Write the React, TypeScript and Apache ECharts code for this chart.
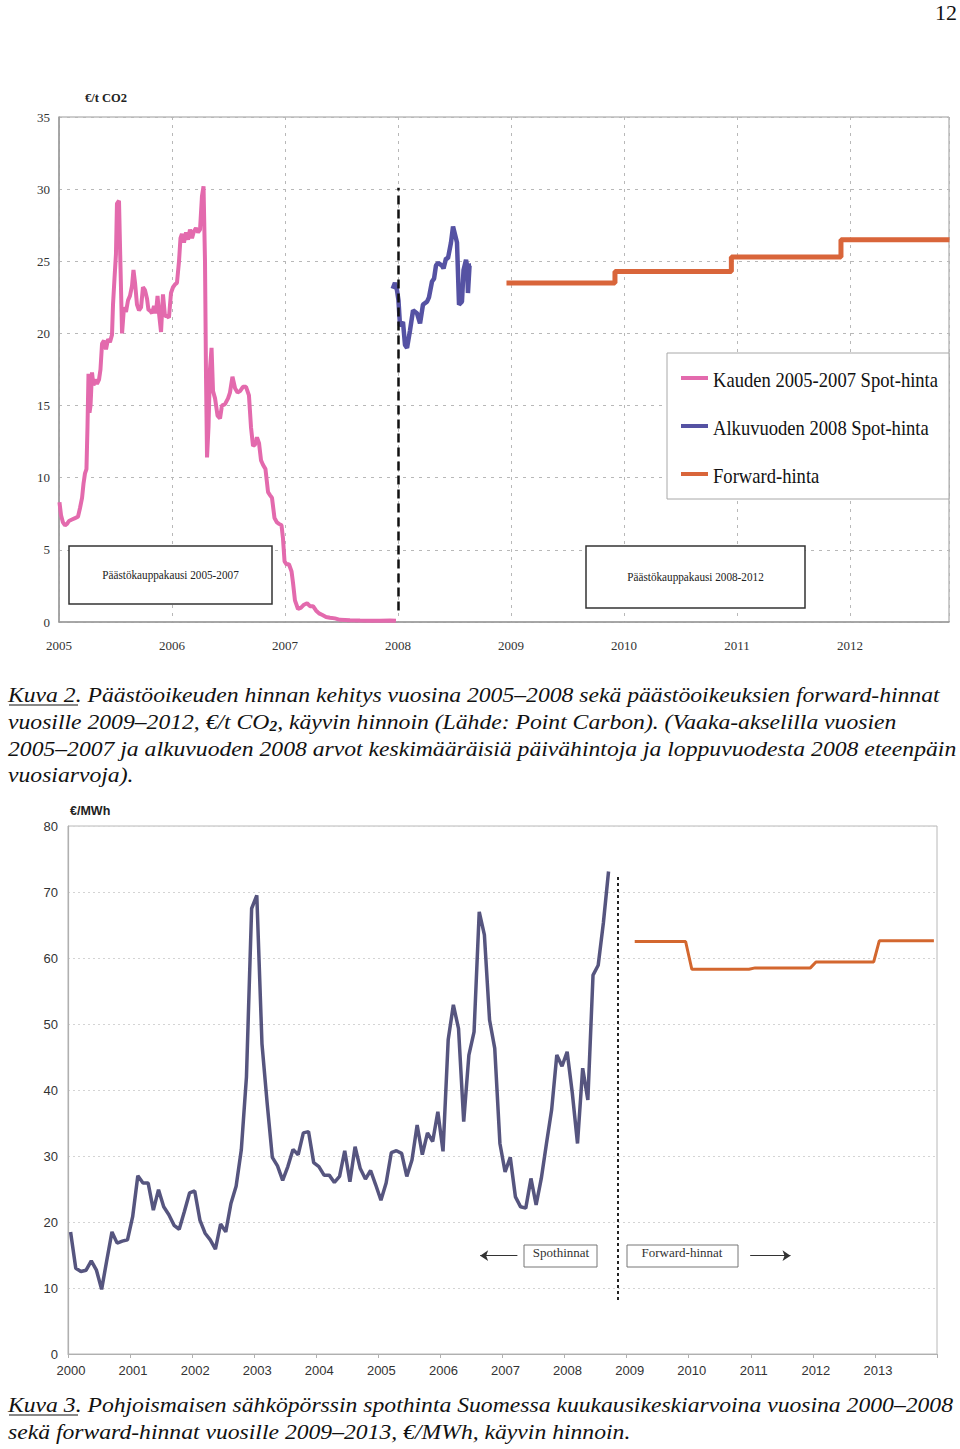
import React, { useEffect, useRef } from "react";
import * as echarts from "echarts";

// ---------- Kuva 2 data (€/t CO2) ----------
const pinkYears = [
  2005.004, 2005.018, 2005.035, 2005.053, 2005.071, 2005.088, 2005.115, 2005.142, 2005.168, 2005.186,
  2005.204, 2005.217, 2005.230, 2005.243, 2005.252, 2005.261, 2005.270, 2005.279, 2005.292, 2005.305,
  2005.319, 2005.336, 2005.354, 2005.367, 2005.381, 2005.398, 2005.416, 2005.434, 2005.451, 2005.469,
  2005.478, 2005.491, 2005.504, 2005.513, 2005.531, 2005.540, 2005.558, 2005.575, 2005.593, 2005.611,
  2005.628, 2005.646, 2005.659, 2005.673, 2005.690, 2005.708, 2005.726, 2005.743, 2005.761, 2005.779,
  2005.792, 2005.805, 2005.823, 2005.841, 2005.858, 2005.872, 2005.885, 2005.903, 2005.920, 2005.938,
  2005.956, 2005.973, 2005.991, 2006.009, 2006.027, 2006.044, 2006.062, 2006.075, 2006.088, 2006.106,
  2006.124, 2006.142, 2006.159, 2006.177, 2006.195, 2006.212, 2006.230, 2006.248, 2006.265, 2006.279,
  2006.292, 2006.301, 2006.310, 2006.323, 2006.336, 2006.350, 2006.363, 2006.381, 2006.403, 2006.425,
  2006.442, 2006.469, 2006.496, 2006.513, 2006.535, 2006.558, 2006.580, 2006.602, 2006.628, 2006.655,
  2006.681, 2006.699, 2006.717, 2006.735, 2006.752, 2006.770, 2006.788, 2006.805, 2006.827, 2006.850,
  2006.867, 2006.885, 2006.907, 2006.929, 2006.947, 2006.969, 2006.982, 2006.996, 2007.013, 2007.035,
  2007.058, 2007.071, 2007.088, 2007.115, 2007.142, 2007.168, 2007.195, 2007.221, 2007.248, 2007.274,
  2007.301, 2007.327, 2007.363, 2007.398, 2007.442, 2007.487, 2007.575, 2007.664, 2007.752, 2007.841,
  2007.929, 2007.982,
];
const pinkValues = [
  8.3, 7.4, 6.9, 6.7, 6.8, 7.0, 7.1, 7.2, 7.3, 7.9,
  8.6, 9.6, 10.3, 10.6, 13.5, 17.2, 14.5, 15.0, 17.3, 16.4,
  16.8, 16.5, 16.8, 17.5, 19.3, 19.5, 18.9, 19.6, 19.4, 19.9,
  22.0, 23.8, 25.5, 29.0, 29.2, 26.0, 20.0, 21.8, 21.5, 22.3,
  22.6, 23.3, 24.4, 23.5, 22.0, 21.6, 21.8, 23.2, 23.0, 22.4,
  21.6, 21.6, 21.4, 21.9, 21.4, 22.6, 21.4, 20.1, 22.7, 21.2,
  21.2, 21.1, 22.8, 23.2, 23.4, 23.5, 25.0, 26.6, 26.9, 26.3,
  27.0, 26.5, 27.2, 26.6, 27.1, 27.3, 27.0, 27.2, 29.5, 30.2,
  25.0, 17.0, 11.4, 13.5, 17.5, 19.0, 16.0, 15.5, 14.3, 14.1,
  15.0, 15.1, 15.5, 15.9, 17.0, 16.2, 15.9, 16.0, 16.3, 16.3,
  15.7, 13.5, 12.2, 12.3, 12.8, 12.4, 11.2, 10.9, 10.6, 9.0,
  8.8, 8.6, 7.2, 6.9, 6.8, 6.7, 5.8, 4.2, 4.0, 4.0,
  3.5, 2.7, 1.5, 0.9, 1.0, 1.2, 1.3, 1.1, 1.1, 0.8,
  0.6, 0.5, 0.35, 0.3, 0.25, 0.15, 0.12, 0.1, 0.09, 0.08,
  0.1, 0.08,
];
const blueYears = [
  2007.953, 2007.973, 2007.991, 2008.004, 2008.018, 2008.044, 2008.062, 2008.080, 2008.106, 2008.133,
  2008.168, 2008.195, 2008.221, 2008.257, 2008.274, 2008.301, 2008.319, 2008.336, 2008.354, 2008.389,
  2008.403, 2008.425, 2008.442, 2008.469, 2008.487, 2008.522, 2008.540, 2008.566, 2008.580, 2008.602,
  2008.611, 2008.619, 2008.633, 2008.646,
];
const blueValues = [
  23.1, 23.5, 23.0, 22.3, 20.5, 20.8, 19.2, 19.0, 20.2, 21.6,
  21.4, 20.7, 22.0, 22.2, 22.5, 23.6, 23.8, 24.7, 24.9, 24.7,
  24.5, 25.2, 25.2, 26.3, 27.4, 26.3, 22.0, 22.2, 24.4, 25.1,
  24.7, 22.8, 24.7, 24.7,
];
const forward1Years = [2008.96, 2009.92, 2010.95, 2011.92, 2012.88];
const forward1Values = [23.5, 24.3, 25.3, 26.5, 26.5];

// ---------- Kuva 3 data (€/MWh) ----------
const spotStartYear = 2000;
const spotMonthly = [
  18.5, 13.0, 12.5, 12.7, 14.1, 12.7, 9.8, 14.2, 18.5, 16.8, 17.1, 17.3,
  20.8, 27.0, 25.9, 25.9, 21.8, 24.9, 22.3, 21.1, 19.5, 18.9, 21.6, 24.4,
  24.7, 20.3, 18.3, 17.3, 15.9, 19.7, 18.5, 22.8, 25.4, 30.9, 42.0, 67.5,
  69.5, 47.0, 38.0, 29.8, 28.5, 26.3, 28.4, 31.0, 30.2, 33.5, 33.7, 29.0,
  28.4, 27.1, 27.1, 26.0, 26.9, 30.8, 26.1, 31.4, 28.1, 26.5, 27.8, 25.6,
  23.3, 25.9, 30.5, 30.8, 30.4, 26.9, 29.4, 34.7, 30.2, 33.5, 32.2, 36.7,
  30.7, 47.6, 52.9, 49.3, 35.2, 45.3, 48.8, 67.0, 63.5, 50.6, 46.3, 31.9,
  27.6, 29.8, 23.8, 22.3, 22.1, 26.6, 22.6, 26.6, 31.9, 37.0, 45.3, 43.6,
  45.8, 39.5, 31.9, 43.3, 38.5, 57.4, 58.9, 65.3, 73.1,
];
const forward2Years = [2009.13, 2009.95, 2010.05, 2010.97, 2011.07, 2011.96, 2012.05, 2012.98, 2013.07, 2013.95];
const forward2Values = [62.5, 62.5, 58.3, 58.3, 58.5, 58.5, 59.4, 59.4, 62.6, 62.6];

const legend1 = ["Kauden 2005-2007 Spot-hinta", "Alkuvuoden 2008 Spot-hinta", "Forward-hinta"];

const caption2Lines = [
  "Kuva 2. Päästöoikeuden hinnan kehitys vuosina 2005–2008 sekä päästöoikeuksien forward-hinnat",
  "vuosille 2009–2012, €/t CO{sub|2}, käyvin hinnoin (Lähde: Point Carbon). (Vaaka-akselilla vuosien",
  "2005–2007 ja alkuvuoden 2008 arvot keskimääräisiä päivähintoja ja loppuvuodesta 2008 eteenpäin",
  "vuosiarvoja).",
];
const caption3Lines = [
  "Kuva 3. Pohjoismaisen sähköpörssin spothinta Suomessa kuukausikeskiarvoina vuosina 2000–2008",
  "sekä forward-hinnat vuosille 2009–2013, €/MWh, käyvin hinnoin.",
];

const SERIF = "'Liberation Serif', 'Times New Roman', serif";
const SANS = "'Liberation Sans', Arial, sans-serif";
const PINK = "#e36aad";
const BLUE1 = "#5552a3";
const ORANGE1 = "#d9653a";
const BLUE2 = "#56557f";
const ORANGE2 = "#d3672f";

function zip(xs: number[], ys: number[]) {
  return xs.map((x, i) => [x, ys[i]]);
}

function buildOption() {
  const spotData = spotMonthly.map((v, i) => [spotStartYear + (i + 0.5) / 12, v]);

  const captionText = (txt: string, y: number, rich = false) => ({
    type: "text",
    x: 8,
    y,
    z: 20,
    scaleX: 1.1,
    style: {
      text: txt,
      fontFamily: SERIF,
      fontStyle: "italic",
      fontSize: 21.5,
      fill: "#111",
      align: "left",
      verticalAlign: "middle",
      lineHeight: rich ? 24 : undefined,
      rich: rich
        ? { sub: { fontFamily: SERIF, fontStyle: "italic", fontWeight: "bold", fontSize: 14, lineHeight: 10, verticalAlign: "bottom", fill: "#111" } }
        : undefined,
    },
  });

  const graphic: any[] = [
    // page number
    { type: "text", x: 957, y: 12, z: 20, style: { text: "12", fontFamily: SERIF, fontSize: 22, fill: "#111", align: "right", verticalAlign: "middle" } },
    // chart 1 y title
    { type: "text", x: 85, y: 98, z: 20, style: { text: "€/t CO2", fontFamily: SERIF, fontWeight: "bold", fontSize: 12.5, fill: "#222", align: "left", verticalAlign: "middle" } },
    // chart 1 legend box
    { type: "rect", z: 10, shape: { x: 667, y: 353, width: 282, height: 146 }, style: { fill: "#fff", stroke: "#a8a8a8", lineWidth: 1 } },
    { type: "line", z: 11, shape: { x1: 681, y1: 378, x2: 708, y2: 378 }, style: { stroke: PINK, lineWidth: 4 } },
    { type: "line", z: 11, shape: { x1: 681, y1: 426, x2: 708, y2: 426 }, style: { stroke: BLUE1, lineWidth: 4 } },
    { type: "line", z: 11, shape: { x1: 681, y1: 474, x2: 708, y2: 474 }, style: { stroke: ORANGE1, lineWidth: 4 } },
    { type: "text", x: 713, y: 379, z: 11, scaleX: 0.845, style: { text: legend1[0], fontFamily: SERIF, fontSize: 22, fill: "#111", align: "left", verticalAlign: "middle" } },
    { type: "text", x: 713, y: 427, z: 11, scaleX: 0.845, style: { text: legend1[1], fontFamily: SERIF, fontSize: 22, fill: "#111", align: "left", verticalAlign: "middle" } },
    { type: "text", x: 713, y: 475, z: 11, scaleX: 0.845, style: { text: legend1[2], fontFamily: SERIF, fontSize: 22, fill: "#111", align: "left", verticalAlign: "middle" } },
    // chart 1 period boxes
    { type: "rect", z: 10, shape: { x: 69, y: 546, width: 203, height: 58 }, style: { fill: "#fff", stroke: "#333", lineWidth: 1.5 } },
    { type: "text", x: 170.5, y: 575, z: 11, scaleX: 0.83, style: { text: "Päästökauppakausi 2005-2007", fontFamily: SERIF, fontSize: 13.5, fill: "#222", align: "center", verticalAlign: "middle" } },
    { type: "rect", z: 10, shape: { x: 586, y: 546, width: 219, height: 62 }, style: { fill: "#fff", stroke: "#333", lineWidth: 1.5 } },
    { type: "text", x: 695.5, y: 577, z: 11, scaleX: 0.83, style: { text: "Päästökauppakausi 2008-2012", fontFamily: SERIF, fontSize: 13.5, fill: "#222", align: "center", verticalAlign: "middle" } },
    // chart 2 y title
    { type: "text", x: 70, y: 811, z: 20, style: { text: "€/MWh", fontFamily: SANS, fontWeight: "bold", fontSize: 12.5, fill: "#222", align: "left", verticalAlign: "middle" } },
    // chart 2 boxes
    { type: "rect", z: 10, shape: { x: 524, y: 1245, width: 73, height: 22 }, style: { fill: "#fff", stroke: "#777", lineWidth: 1 } },
    { type: "text", x: 561, y: 1252, z: 11, style: { text: "Spothinnat", fontFamily: SERIF, fontSize: 13, fill: "#333", align: "center", verticalAlign: "middle" } },
    { type: "rect", z: 10, shape: { x: 627, y: 1245, width: 111, height: 22 }, style: { fill: "#fff", stroke: "#777", lineWidth: 1 } },
    { type: "text", x: 682, y: 1252, z: 11, style: { text: "Forward-hinnat", fontFamily: SERIF, fontSize: 13, fill: "#333", align: "center", verticalAlign: "middle" } },
    // captions
    captionText(caption2Lines[0], 695),
    captionText(caption2Lines[1], 721.5, true),
    captionText(caption2Lines[2], 748.5),
    captionText(caption2Lines[3], 775),
    { type: "line", z: 20, shape: { x1: 9, y1: 705, x2: 78, y2: 705 }, style: { stroke: "#111", lineWidth: 1 } },
    captionText(caption3Lines[0], 1404.5),
    captionText(caption3Lines[1], 1431.5),
    { type: "line", z: 20, shape: { x1: 9, y1: 1415, x2: 78, y2: 1415 }, style: { stroke: "#111", lineWidth: 1 } },
  ];

  const yearLabel1 = (v: number) => (Math.abs(v - Math.round(v)) < 1e-6 ? String(Math.round(v)) : "");
  const yearLabel2 = (v: number) => (v < 2014 ? String(v) : "");

  return {
    animation: false,
    backgroundColor: "#ffffff",
    grid: [
      { left: 59, top: 117, width: 890, height: 505, show: true, borderColor: "#9a9a9a", borderWidth: 1, backgroundColor: "transparent" },
      { left: 68, top: 826, width: 869, height: 528, show: true, borderColor: "#b8b8b8", borderWidth: 1, backgroundColor: "transparent" },
    ],
    xAxis: [
      {
        gridIndex: 0,
        type: "value",
        min: 2005,
        max: 2012.876,
        interval: 1,
        axisLine: { show: true, lineStyle: { color: "#9a9a9a", width: 1.5 } },
        axisTick: { show: false },
        axisLabel: { formatter: yearLabel1, margin: 17, fontFamily: SERIF, fontSize: 13, color: "#333" },
        splitLine: { show: true, lineStyle: { color: "#b8b8b8", type: [3, 5], width: 1 } },
      },
      {
        gridIndex: 1,
        type: "value",
        min: 2000,
        max: 2014,
        interval: 1,
        axisLine: { show: true, lineStyle: { color: "#b0b0b0", width: 1.2 } },
        axisTick: { show: true, length: 4, lineStyle: { color: "#b0b0b0" } },
        axisLabel: { formatter: yearLabel2, margin: 10, padding: [0, 0, 0, 6], fontFamily: SANS, fontSize: 13, color: "#333" },
        splitLine: { show: false },
      },
    ],
    yAxis: [
      {
        gridIndex: 0,
        type: "value",
        min: 0,
        max: 35,
        interval: 5,
        axisLine: { show: true, lineStyle: { color: "#9a9a9a", width: 1.5 } },
        axisTick: { show: false },
        axisLabel: { margin: 9, fontFamily: SERIF, fontSize: 13, color: "#333" },
        splitLine: { show: true, lineStyle: { color: "#b8b8b8", type: [3, 5], width: 1 } },
      },
      {
        gridIndex: 1,
        type: "value",
        min: 0,
        max: 80,
        interval: 10,
        axisLine: { show: true, lineStyle: { color: "#b0b0b0", width: 1.2 } },
        axisTick: { show: false },
        axisLabel: { margin: 10, fontFamily: SANS, fontSize: 13, color: "#333" },
        splitLine: { show: true, lineStyle: { color: "#d4d4d4", type: [2, 3], width: 1 } },
      },
    ],
    series: [
      {
        name: legend1[0],
        type: "line",
        xAxisIndex: 0,
        yAxisIndex: 0,
        data: zip(pinkYears, pinkValues),
        symbol: "none",
        lineStyle: { color: PINK, width: 4 },
        itemStyle: { color: PINK },
        z: 3,
        markLine: {
          silent: true,
          symbol: ["none", "none"],
          label: { show: false },
          lineStyle: { color: "#111", width: 2.5, type: [9, 5] },
          data: [[{ coord: [2008, 0.8] }, { coord: [2008, 30.1] }]],
        },
      },
      {
        name: legend1[1],
        type: "line",
        xAxisIndex: 0,
        yAxisIndex: 0,
        data: zip(blueYears, blueValues),
        symbol: "none",
        lineStyle: { color: BLUE1, width: 4.5 },
        itemStyle: { color: BLUE1 },
        z: 4,
      },
      {
        name: legend1[2],
        type: "line",
        xAxisIndex: 0,
        yAxisIndex: 0,
        data: zip(forward1Years, forward1Values),
        step: "end",
        symbol: "none",
        lineStyle: { color: ORANGE1, width: 5 },
        itemStyle: { color: ORANGE1 },
        z: 3,
      },
      {
        name: "Spothinnat",
        type: "line",
        xAxisIndex: 1,
        yAxisIndex: 1,
        data: spotData,
        symbol: "none",
        lineStyle: { color: BLUE2, width: 3.5 },
        itemStyle: { color: BLUE2 },
        z: 3,
        markLine: {
          silent: true,
          symbol: ["none", "none"],
          label: { show: false },
          lineStyle: { color: "#222", width: 2, type: [3, 3] },
          data: [[{ coord: [2008.86, 8.2] }, { coord: [2008.86, 72.6] }]],
        },
      },
      {
        name: "Forward-hinnat",
        type: "line",
        xAxisIndex: 1,
        yAxisIndex: 1,
        data: zip(forward2Years, forward2Values),
        symbol: "none",
        lineStyle: { color: ORANGE2, width: 3 },
        itemStyle: { color: ORANGE2 },
        z: 3,
        markLine: {
          silent: true,
          symbol: ["none", "arrow"],
          symbolSize: 8,
          label: { show: false },
          lineStyle: { color: "#333", width: 1, type: "solid" },
          data: [
            [{ coord: [2007.24, 14.9] }, { coord: [2006.64, 14.9] }],
            [{ coord: [2010.99, 14.9] }, { coord: [2011.64, 14.9] }],
          ],
        },
      },
    ],
    graphic,
  };
}

export default function App() {
  const ref = useRef<HTMLDivElement>(null);
  useEffect(() => {
    if (!ref.current) return;
    const chart = echarts.init(ref.current, undefined, { renderer: "svg" });
    chart.setOption(buildOption() as any);
    return () => chart.dispose();
  }, []);
  return (
    <div
      ref={ref}
      style={{ position: "absolute", left: 0, top: 0, width: 960, height: 1449, background: "#fff" }}
    />
  );
}
